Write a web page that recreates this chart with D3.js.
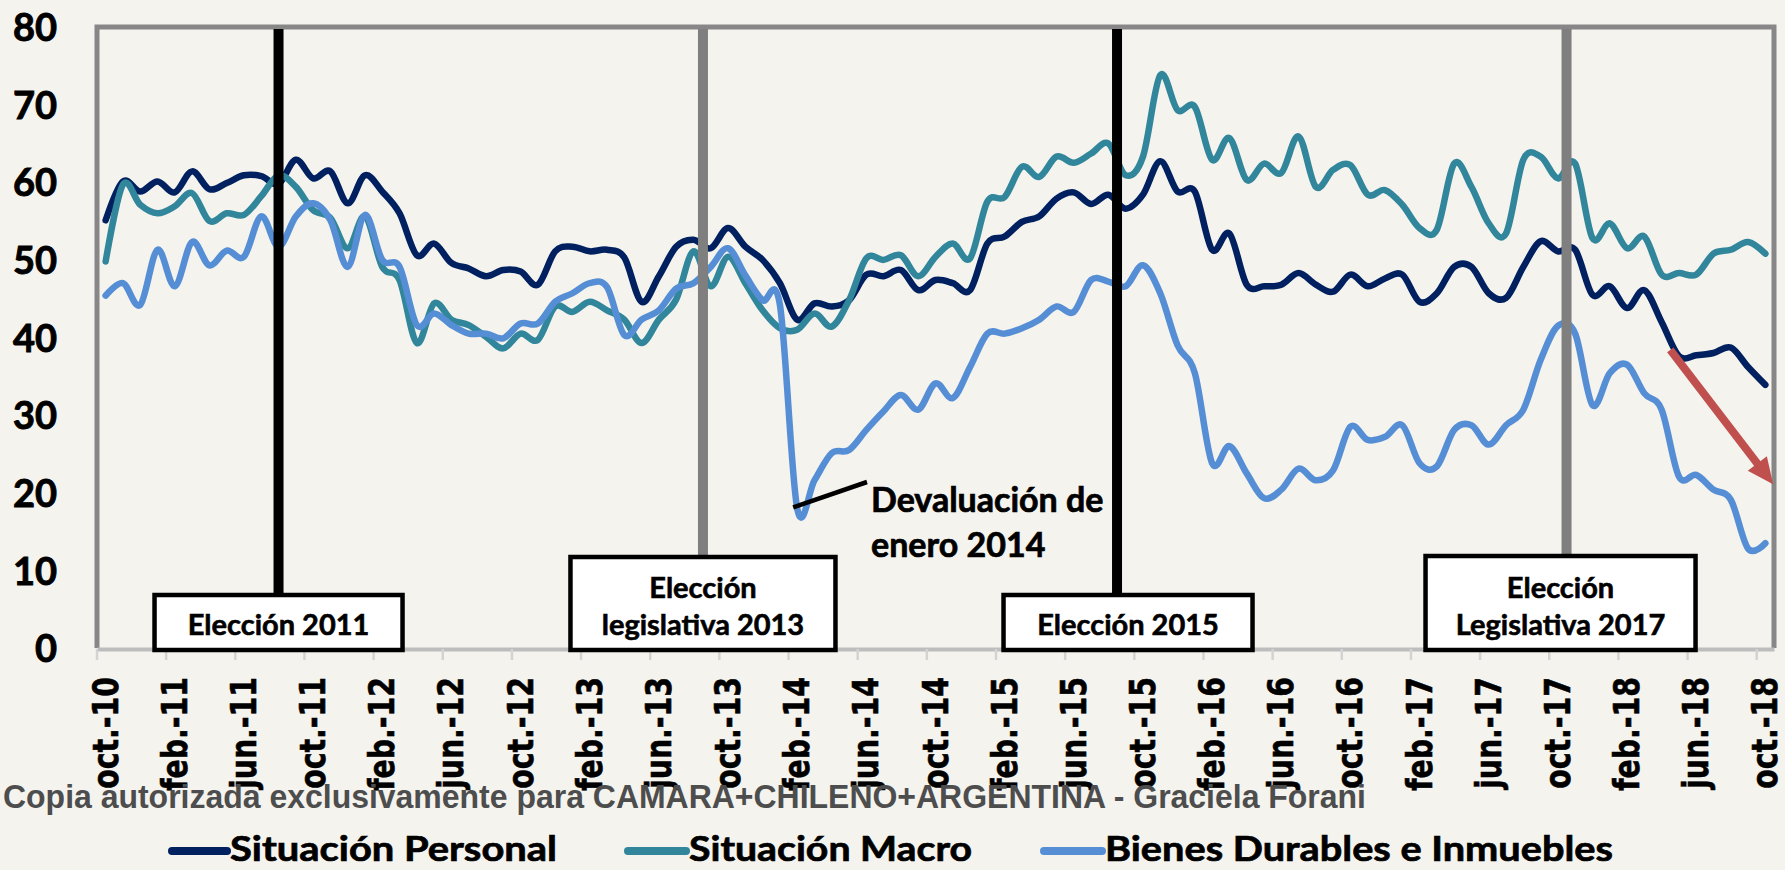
<!DOCTYPE html>
<html>
<head>
<meta charset="utf-8">
<script src="https://cdn.jsdelivr.net/npm/d3@7"></script>
<style>
  body { margin: 0; background: #f4f3ee; }
  svg { display: block; }
</style>
</head>
<body>
<div id="chart"></div>
<script>
// months, oct-10 .. oct-18
const categories = [
  "oct.-10","nov.-10","dic.-10",
  "ene.-11","feb.-11","mar.-11","abr.-11","may.-11","jun.-11","jul.-11","ago.-11","sep.-11","oct.-11","nov.-11","dic.-11",
  "ene.-12","feb.-12","mar.-12","abr.-12","may.-12","jun.-12","jul.-12","ago.-12","sep.-12","oct.-12","nov.-12","dic.-12",
  "ene.-13","feb.-13","mar.-13","abr.-13","may.-13","jun.-13","jul.-13","ago.-13","sep.-13","oct.-13","nov.-13","dic.-13",
  "ene.-14","feb.-14","mar.-14","abr.-14","may.-14","jun.-14","jul.-14","ago.-14","sep.-14","oct.-14","nov.-14","dic.-14",
  "ene.-15","feb.-15","mar.-15","abr.-15","may.-15","jun.-15","jul.-15","ago.-15","sep.-15","oct.-15","nov.-15","dic.-15",
  "ene.-16","feb.-16","mar.-16","abr.-16","may.-16","jun.-16","jul.-16","ago.-16","sep.-16","oct.-16","nov.-16","dic.-16",
  "ene.-17","feb.-17","mar.-17","abr.-17","may.-17","jun.-17","jul.-17","ago.-17","sep.-17","oct.-17","nov.-17","dic.-17",
  "ene.-18","feb.-18","mar.-18","abr.-18","may.-18","jun.-18","jul.-18","ago.-18","sep.-18","oct.-18"
];

const tickLabels = [
  "oct.-10","feb.-11","jun.-11","oct.-11","feb.-12","jun.-12","oct.-12","feb.-13","jun.-13",
  "oct.-13","feb.-14","jun.-14","oct.-14","feb.-15","jun.-15","oct.-15","feb.-16","jun.-16",
  "oct.-16","feb.-17","jun.-17","oct.-17","feb.-18","jun.-18","oct.-18"
];

const yTicks = [0, 10, 20, 30, 40, 50, 60, 70, 80];

const personal = [
  55.1, 60.1, 58.8,
  60.1, 58.7, 61.4, 59.1, 59.9, 60.9, 60.8, 59.8, 62.9, 60.5, 61.4, 57.3,
  60.9, 58.8, 56.0, 50.6, 52.1, 49.6, 48.9, 47.9, 48.7, 48.5, 46.8, 51.1,
  51.7, 51.1, 51.3, 50.3, 44.6, 47.9, 51.7, 52.6, 51.5, 54.1, 51.7, 50.0,
  47.0, 42.3, 44.4, 44.0, 44.8, 48.1, 47.9, 48.7, 46.1, 47.4, 47.0, 46.1,
  52.1, 53.0, 54.9, 55.6, 57.9, 58.7, 57.2, 58.4, 56.6, 58.4, 62.7, 58.8,
  58.8, 51.3, 53.4, 46.8, 46.6, 46.8, 48.3, 46.8, 45.9, 48.1, 46.6, 47.6,
  48.1, 44.6, 45.7, 49.1, 49.1, 45.7, 45.1, 49.1, 52.4, 51.1, 51.3, 45.5,
  46.6, 43.8, 46.1, 42.0, 37.6, 37.7, 38.0, 38.7, 36.2, 33.9
];

const macro = [
  49.8, 59.7, 57.1,
  56.0, 56.9, 58.6, 55.0, 56.0, 55.8, 58.2, 60.9, 59.4, 56.4, 55.4, 51.5,
  55.6, 49.1, 47.4, 39.3, 44.4, 42.3, 41.6, 40.1, 38.6, 40.5, 39.7, 44.0,
  43.3, 44.6, 43.5, 42.3, 39.3, 42.3, 44.9, 51.1, 46.6, 50.4, 47.0, 43.5,
  41.2, 41.0, 43.1, 41.4, 44.8, 50.2, 50.0, 50.6, 47.9, 50.4, 52.1, 50.2,
  57.5, 58.1, 62.0, 60.7, 63.3, 62.5, 63.7, 65.0, 60.9, 63.3, 73.8, 69.3,
  69.7, 62.9, 65.7, 60.3, 62.4, 61.2, 65.9, 59.4, 61.6, 62.2, 58.4, 59.0,
  57.1, 54.1, 53.9, 62.4, 59.4, 54.7, 53.4, 62.9, 63.3, 60.5, 62.4, 52.8,
  54.7, 51.5, 53.0, 48.1, 48.3, 48.1, 50.8, 51.3, 52.3, 50.8
];

const bienes = [
  45.4, 47.0, 44.2,
  51.3, 46.6, 52.3, 49.3, 51.2, 50.4, 55.6, 51.7, 55.6, 57.3, 55.1, 49.1,
  55.8, 50.0, 49.1, 41.6, 43.1, 41.6, 40.5, 40.5, 39.9, 41.8, 41.8, 44.6,
  45.7, 47.0, 46.5, 40.3, 42.3, 43.5, 46.3, 47.0, 49.1, 51.5, 48.0, 44.8,
  44.2, 18.0, 21.6, 25.1, 25.5, 28.1, 30.5, 32.6, 30.7, 34.1, 32.2, 36.2,
  40.5, 40.5, 41.2, 42.3, 44.0, 43.3, 47.4, 47.2, 46.6, 49.3, 45.7, 39.0,
  35.4, 23.8, 26.0, 22.5, 19.3, 20.4, 23.1, 21.6, 22.9, 28.5, 26.8, 27.2,
  28.7, 23.8, 23.4, 28.1, 28.7, 26.2, 28.7, 30.7, 37.1, 41.5, 40.5, 31.3,
  35.4, 36.5, 32.8, 30.7, 22.1, 22.3, 20.4, 19.1, 12.8, 13.5
];

const seriesNames = ["Situación Personal", "Situación Macro", "Bienes Durables e Inmuebles"];

// elections, placed in month units (index into categories)
const eventIndex = [10, 34.55, 58.5, 84.5];
const eventLabels = [["Elección 2011"], ["Elección", "legislativa 2013"], ["Elección 2015"], ["Elección", "Legislativa 2017"]];

const noteMonth = "feb.-14";
const noteLines = ["Devaluación de", "enero 2014"];
const watermark = "Copia autorizada exclusivamente para CAMARA+CHILENO+ARGENTINA - Graciela Forani";

// chart building
const svgWidth = 1785;
const svgHeight = 870;
const plot = { left: 97, right: 1774, top: 27, bottom: 648 };

const colors = ["#002060", "#31869b", "#558ed5"];
const eventColors = ["#000000", "#7f7f7f", "#000000", "#7f7f7f"];
const calibri = "Lato, 'Open Sans', sans-serif";

const svg = d3.select("#chart")
  .append("svg")
  .attr("width", svgWidth)
  .attr("height", svgHeight)
  .style("background", "#f4f3ee");

const x = d3.scaleBand()
  .domain(categories)
  .range([plot.left, plot.right]);
const bw = x.bandwidth();
const xi = d3.scaleLinear()
  .domain([-0.5, categories.length - 0.5])
  .range([plot.left, plot.right]);

const y = d3.scaleLinear()
  .domain([0, 80])
  .range([plot.bottom, plot.top]);

// plot frame
svg.append("path")
  .attr("d", `M${plot.left},${plot.bottom} V${plot.top} H${plot.right} V${plot.bottom}`)
  .attr("fill", "none")
  .attr("stroke", "#878787")
  .attr("stroke-width", 5);

// x axis, ticks between the months
const xAxis = d3.axisBottom(x)
  .tickValues(tickLabels)
  .tickSize(11)
  .tickSizeOuter(0);

const gx = svg.append("g")
  .attr("transform", `translate(0, ${plot.bottom + 1})`)
  .call(xAxis);

gx.select(".domain")
  .attr("stroke", "#bdbdbd")
  .attr("stroke-width", 4);

gx.selectAll(".tick line")
  .attr("x1", -bw / 2)
  .attr("x2", -bw / 2)
  .attr("stroke", "#d3d3d3")
  .attr("stroke-width", 2.5);

gx.selectAll(".tick text")
  .attr("y", null)
  .attr("dy", null)
  .attr("transform", "translate(12, 28) rotate(-90) scale(0.81, 1)")
  .attr("text-anchor", "end")
  .style("font-family", "'DejaVu Sans', Verdana, sans-serif")
  .style("font-weight", "bold")
  .style("font-size", "35px")
  .attr("fill", "#000")
  .attr("stroke", "#000")
  .attr("stroke-width", 0.6);

// y axis
const yAxis = d3.axisLeft(y)
  .tickValues(yTicks)
  .tickSize(0)
  .tickPadding(0);

const gy = svg.append("g")
  .attr("transform", "translate(57, 0)")
  .call(yAxis);
gy.select(".domain").remove();
gy.selectAll(".tick text")
  .attr("dy", "0.36em")
  .style("font-family", calibri)
  .style("font-weight", "bold")
  .style("font-size", "38px")
  .attr("fill", "#000")
  .attr("stroke", "#000")
  .attr("stroke-width", 0.9);

// series
const line = d3.line()
  .x((d, i) => x(categories[i]) + bw / 2)
  .y(d => y(d))
  .curve(d3.curveCatmullRom.alpha(0));

[personal, macro, bienes].forEach(function (values, k) {
  svg.append("path")
    .datum(values)
    .attr("d", line)
    .attr("fill", "none")
    .attr("stroke", colors[k])
    .attr("stroke-width", 6.5)
    .attr("stroke-linejoin", "round")
    .attr("stroke-linecap", "round");
});

// election lines
svg.selectAll(".event")
  .data(eventIndex)
  .enter()
  .append("line")
  .attr("x1", d => xi(d))
  .attr("x2", d => xi(d))
  .attr("y1", plot.top + 2)
  .attr("y2", plot.bottom)
  .attr("stroke", (d, i) => eventColors[i])
  .attr("stroke-width", 10);

// election boxes
const boxLayout = [
  { dx: 0, w: 248, h: 55 },
  { dx: 0, w: 265, h: 93 },
  { dx: 11, w: 249, h: 55 },
  { dx: -6, w: 270, h: 94 }
];

eventLabels.forEach(function (lines, i) {
  const b = boxLayout[i];
  const cx = xi(eventIndex[i]) + b.dx;
  const g = svg.append("g");
  g.append("rect")
    .attr("x", cx - b.w / 2)
    .attr("y", 650 - b.h)
    .attr("width", b.w)
    .attr("height", b.h)
    .attr("fill", "#ffffff")
    .attr("stroke", "#000")
    .attr("stroke-width", 4.5);
  lines.forEach(function (t, j) {
    g.append("text")
      .attr("x", cx)
      .attr("y", 635 - (lines.length - 1 - j) * 37)
      .attr("text-anchor", "middle")
      .style("font-family", calibri)
      .style("font-weight", "bold")
      .style("font-size", "29px")
      .attr("stroke", "#000")
      .attr("stroke-width", 0.6)
      .text(t);
  });
});

// devaluation note
svg.append("line")
  .attr("x1", x(noteMonth) + bw / 2 - 4)
  .attr("y1", y(bienes[categories.indexOf(noteMonth)]) - 1)
  .attr("x2", 867)
  .attr("y2", 482)
  .attr("stroke", "#000")
  .attr("stroke-width", 4.5);

noteLines.forEach(function (t, j) {
  svg.append("text")
    .attr("x", 871)
    .attr("y", 512 + j * 45)
    .style("font-family", calibri)
    .style("font-weight", "bold")
    .style("font-size", "34px")
    .attr("stroke", "#000")
    .attr("stroke-width", 0.7)
    .text(t);
});

// red trend arrow
const a0 = [xi(90.5), y(38.4)];
const a1 = [xi(96.45), y(21.1)];
const ang = Math.atan2(a1[1] - a0[1], a1[0] - a0[0]);
const headLen = 26, headHalf = 12;
const base = [a1[0] - headLen * Math.cos(ang), a1[1] - headLen * Math.sin(ang)];
svg.append("line")
  .attr("x1", a0[0]).attr("y1", a0[1])
  .attr("x2", base[0] + 2 * Math.cos(ang)).attr("y2", base[1] + 2 * Math.sin(ang))
  .attr("stroke", "#c0504d")
  .attr("stroke-width", 8);
svg.append("path")
  .attr("d", `M${a1[0]},${a1[1]}` +
    `L${base[0] + headHalf * Math.sin(ang)},${base[1] - headHalf * Math.cos(ang)}` +
    `L${base[0] - headHalf * Math.sin(ang)},${base[1] + headHalf * Math.cos(ang)}Z`)
  .attr("fill", "#c0504d");

// watermark
svg.append("text")
  .attr("x", 3)
  .attr("y", 808)
  .attr("textLength", 1363)
  .attr("lengthAdjust", "spacingAndGlyphs")
  .style("font-family", "'Liberation Sans Narrow', 'Liberation Sans', Arial, sans-serif")
  .style("font-weight", "bold")
  .style("font-size", "33px")
  .attr("fill", "#4d4d4d")
  .text(watermark);

// legend
const legendLayout = [
  { x0: 172, x1: 227, tx: 230, tw: 327 },
  { x0: 628, x1: 686, tx: 689, tw: 283 },
  { x0: 1044, x1: 1102, tx: 1105, tw: 508 }
];
seriesNames.forEach(function (name, k) {
  const l = legendLayout[k];
  svg.append("line")
    .attr("x1", l.x0).attr("x2", l.x1)
    .attr("y1", 851).attr("y2", 851)
    .attr("stroke", colors[k])
    .attr("stroke-width", 8)
    .attr("stroke-linecap", "round");
  svg.append("text")
    .attr("x", l.tx)
    .attr("y", 861)
    .attr("textLength", l.tw)
    .attr("lengthAdjust", "spacingAndGlyphs")
    .style("font-family", calibri)
    .style("font-weight", "bold")
    .style("font-size", "35px")
    .attr("stroke", "#000")
    .attr("stroke-width", 0.7)
    .text(name);
});
</script>
</body>
</html>
